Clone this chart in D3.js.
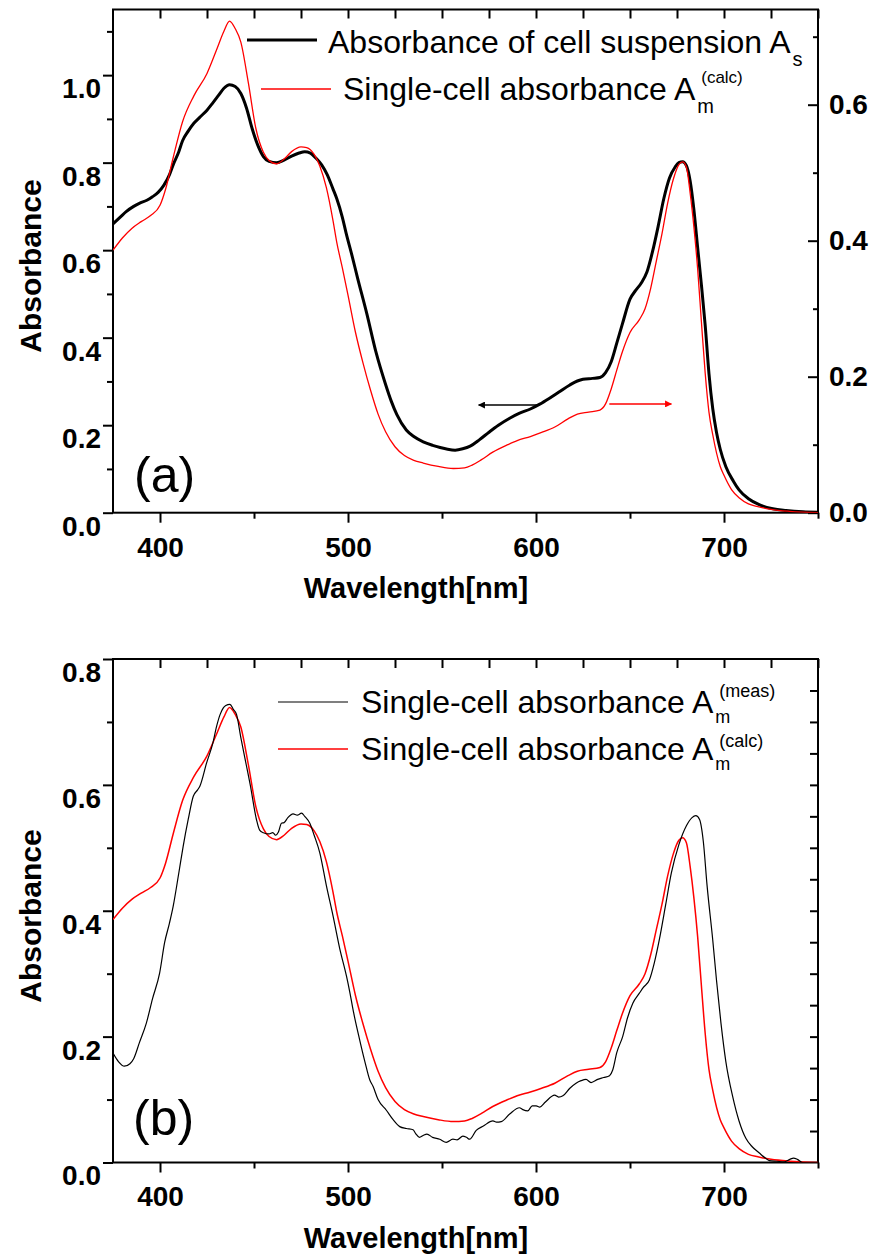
<!DOCTYPE html>
<html><head><meta charset="utf-8">
<script src="https://cdn.jsdelivr.net/npm/d3@7"></script>
<style>body{margin:0;background:#fff}svg{display:block}</style>
</head><body>
<svg id="c" width="875" height="1256"></svg>
<script>
// ---- data (wavelength nm, absorbance) ----
const suspension = [[375,.660],[379,.676],[382,.688],[386,.700],[389,.707],[393,.714],[396,.722],[399,.732],[402,.748],[405,.772],[407,.795],[410,.825],[412,.850],[415,.872],[418,.890],[421,.903],[425,.920],[428,.936],[431,.953],[434,.970],[437,.978],[440,.974],[443,.958],[446,.925],[449,.878],[452,.840],[455,.814],[458,.803],[462,.800],[466,.806],[470,.815],[474,.822],[477,.825],[480,.822],[483,.810],[486,.795],[489,.772],[492,.740],[494,.718],[497,.675],[499,.639],[502,.590],[505,.538],[510,.455],[515,.365],[520,.293],[523,.255],[526,.224],[531,.189],[535,.174],[540,.162],[545,.154],[549,.149],[553,.145],[557,.143],[561,.146],[565,.152],[570,.167],[575,.184],[580,.200],[586,.216],[591,.227],[597,.237],[602,.248],[607,.261],[612,.275],[618,.292],[622,.301],[625,.305],[630,.307],[634,.309],[637,.320],[640,.345],[643,.388],[646,.432],[650,.488],[653,.508],[656,.525],[659,.550],[662,.597],[665,.655],[668,.718],[671,.765],[674,.790],[676,.800],[678,.802],[680,.793],[682,.758],[684,.692],[686,.605],[688,.520],[690,.428],[692,.318],[694,.238],[696,.184],[698,.145],[701,.105],[705,.072],[708,.052],[713,.032],[719,.018],[726,.009],[733,.005],[742,.002],[750,.001]];

const calculated = [[375,.386],[380,.404],[385,.418],[390,.428],[395,.437],[400,.452],[403,.476],[407,.522],[412,.575],[418,.613],[425,.646],[430,.680],[434,.708],[437,.723],[440,.712],[443,.692],[447,.632],[451,.565],[455,.530],[458,.518],[462,.513],[466,.520],[470,.531],[475,.538],[478,.537],[482,.527],[485,.510],[488.5,.478],[492,.430],[494,.398],[497,.360],[500,.320],[504,.265],[508,.220],[512,.180],[516,.145],[520,.119],[525,.097],[530,.084],[535,.077],[540,.073],[548,.068],[556,.065],[562,.066],[566,.070],[571,.078],[577,.089],[585,.100],[590,.106],[597,.112],[603,.118],[610,.126],[617,.138],[622,.145],[628,.148],[634,.151],[637,.160],[640,.182],[643,.210],[646,.237],[650,.265],[655,.284],[658,.300],[661,.330],[664,.370],[667,.410],[670,.455],[673,.490],[676,.512],[678,.516],[680,.508],[682,.470],[684,.420],[686,.358],[688,.280],[690,.205],[692,.148],[694,.115],[698,.068],[700,.055],[704,.034],[708,.022],[713,.013],[718,.009],[725,.005],[735,.002],[750,.000]];

const measured = [[375,.174],[378,.160],[381,.153],[384,.157],[386,.165],[389,.190],[392.7,.221],[396,.260],[399.8,.301],[402.5,.350],[405,.380],[407,.407],[410,.460],[412.3,.502],[415,.545],[417.7,.582],[420,.592],[421.2,.598],[424.8,.635],[428,.665],[430.1,.693],[432,.712],[433.6,.722],[435,.726],[437.2,.728],[439,.720],[440.7,.712],[443,.675],[446,.630],[448,.600],[451.3,.545],[453,.528],[455,.524],[458,.522],[460,.524],[461.5,.520],[463,.525],[464.6,.539],[466,.540],[468,.548],[470.8,.554],[473,.552],[475.3,.555],[477,.550],[479.7,.539],[482,.520],[485,.492],[488.5,.440],[492.1,.391],[495.6,.340],[499.2,.296],[501,.270],[503,.238],[506.2,.195],[509,.160],[511.6,.131],[513.3,.121],[516,.100],[520.4,.083],[524,.068],[527.5,.057],[531,.054],[534.6,.052],[536,.046],[538,.040],[540,.043],[542,.045],[545,.040],[548.8,.037],[552.3,.032],[555.8,.037],[558,.036],[561.1,.042],[563,.040],[564.7,.037],[568.2,.051],[572,.058],[577.1,.066],[579,.064],[581.5,.065],[586,.077],[591.2,.087],[593,.084],[595.6,.082],[598,.090],[600.1,.090],[602,.088],[605,.096],[609.9,.107],[612,.104],[614.3,.106],[618,.118],[621.3,.126],[624,.130],[626.6,.132],[629.3,.127],[632.8,.132],[636,.135],[639.1,.138],[640.8,.147],[643,.175],[646.1,.200],[648.7,.230],[651.5,.253],[655,.269],[657,.278],[660.3,.290],[663,.318],[665.6,.354],[669,.410],[672,.460],[676,.505],[680,.535],[683,.548],[685,.551],[687,.545],[689,.510],[691,.440],[694,.354],[696,.290],[698.4,.221],[701,.160],[704.6,.105],[708,.066],[711.7,.038],[715,.025],[718.8,.015],[722,.007],[724.1,.003],[728,.002],[732,.001],[735,.005],[737,.007],[739,.005],[741.8,.000],[745,.000],[750,.000]];

// tick values
const xMajor = [400,500,600,700];
const xMinor = [450,550,650,750];
const xTopTicks = [400,425,450,475,500,525,550,575,600,625,650,675,700,725,750];
const yTopLeftMajor = [0,0.2,0.4,0.6,0.8,1.0];
const yTopLeftMinor = [0.1,0.3,0.5,0.7,0.9,1.1];
const yTopRightMajor = [0,0.2,0.4,0.6];
const yTopRightMinor = [0.1,0.3,0.5,0.7];
const yBotMajor = [0,0.2,0.4,0.6,0.8];
const yBotMinor = [0.1,0.3,0.5,0.7];
const yBotRight = [0.05,0.1,0.15,0.2,0.25,0.3,0.35,0.4,0.45,0.5,0.55,0.6,0.65,0.7,0.75];
// arrows: [wl from, wl to, absorbance] (left axis for suspension, right axis for calc)
const arrowSusp = [601.7, 569.5, 0.246];
const arrowCalc = [639, 672, 0.160];

const FONT = "'Liberation Sans', Arial, sans-serif";
const svg = d3.select("#c");
const L = 113, R = 818;
const x = d3.scaleLinear().domain([375,750]).range([L,R]);

const defs = svg.append("defs");
function marker(id, color){
  defs.append("marker").attr("id",id).attr("viewBox","0 0 10 10").attr("refX",9).attr("refY",5)
    .attr("markerWidth",9).attr("markerHeight",7).attr("markerUnits","userSpaceOnUse").attr("orient","auto")
    .append("path").attr("d","M0,0 L10,5 L0,10 Z").attr("fill",color);
}
marker("ab","#000"); marker("ar","#ff0000");

function styleAxis(g){
  g.select(".domain").remove();
  g.selectAll(".tick line").attr("stroke","#000").attr("stroke-width",2);
  g.selectAll("text").attr("font-family",FONT).attr("font-weight","bold").attr("font-size",28).attr("fill","#000");
}

function panel(top, bottom, yLeft, yLmaj, yLmin, clipId){
  const g = svg.append("g");
  g.append("g").attr("transform",`translate(0,${bottom})`)
    .call(d3.axisBottom(x).tickValues(xMajor).tickSize(10).tickPadding(14).tickFormat(d3.format("d"))).call(styleAxis);
  g.append("g").attr("transform",`translate(0,${bottom})`)
    .call(d3.axisBottom(x).tickValues(xMinor).tickSize(6).tickFormat(()=>"")).call(styleAxis);
  g.append("g").attr("transform",`translate(0,${top})`)
    .call(d3.axisTop(x).tickValues(xTopTicks).tickSize(-9).tickFormat(()=>"")).call(styleAxis);
  const la = g.append("g").attr("transform",`translate(${L},0)`)
    .call(d3.axisLeft(yLeft).tickValues(yLmaj).tickSize(10).tickPadding(2).tickFormat(d3.format(".1f"))).call(styleAxis);
  la.selectAll("text").attr("dy","0.8em");
  g.append("g").attr("transform",`translate(${L},0)`)
    .call(d3.axisLeft(yLeft).tickValues(yLmin).tickSize(6).tickFormat(()=>"")).call(styleAxis);
  g.append("rect").attr("x",L).attr("y",top).attr("width",R-L).attr("height",bottom-top)
    .attr("fill","none").attr("stroke","#000").attr("stroke-width",2);
  defs.append("clipPath").attr("id",clipId).append("rect").attr("x",L).attr("y",top-2).attr("width",R-L).attr("height",bottom-top+2);
  return g;
}

function text(g, str, xx, yy, size, opts={}){
  const t = g.append("text").attr("x",xx).attr("y",yy).attr("font-family",FONT).attr("font-size",size)
    .attr("fill","#000").text(str);
  if(opts.bold) t.attr("font-weight","bold");
  if(opts.anchor) t.attr("text-anchor",opts.anchor);
  if(opts.rotate) t.attr("transform",`rotate(-90,${xx},${yy})`);
  return t;
}

// ===== Panel (a) =====
const topA = 9.5, botA = 512.7;
const yAL = d3.scaleLinear().domain([0,1.15]).range([botA,topA]);
const yAR = d3.scaleLinear().domain([0,0.74]).range([botA,topA]);
const gA = panel(topA, botA, yAL, yTopLeftMajor, yTopLeftMinor, "clipA");
gA.append("g").attr("transform",`translate(${R},0)`)
  .call(d3.axisRight(yAR).tickValues(yTopRightMajor).tickSize(-10).tickPadding(11).tickFormat(d3.format(".1f"))).call(styleAxis);
gA.append("g").attr("transform",`translate(${R},0)`)
  .call(d3.axisRight(yAR).tickValues(yTopRightMinor).tickSize(-5).tickFormat(()=>"")).call(styleAxis);

const lineAL = d3.line().x(d=>x(d[0])).y(d=>yAL(d[1])).curve(d3.curveMonotoneX);
const lineAR = d3.line().x(d=>x(d[0])).y(d=>yAR(d[1])).curve(d3.curveMonotoneX);
gA.append("path").datum(suspension).attr("d",lineAL).attr("fill","none").attr("stroke","#000").attr("stroke-width",3).attr("clip-path","url(#clipA)");
gA.append("path").datum(calculated).attr("d",lineAR).attr("fill","none").attr("stroke","#ff0000").attr("stroke-width",1.3).attr("clip-path","url(#clipA)");

gA.append("line").attr("x1",x(arrowSusp[0])).attr("x2",x(arrowSusp[1])).attr("y1",yAL(arrowSusp[2])).attr("y2",yAL(arrowSusp[2]))
  .attr("stroke","#000").attr("stroke-width",1.5).attr("marker-end","url(#ab)");
gA.append("line").attr("x1",x(arrowCalc[0])).attr("x2",x(arrowCalc[1])).attr("y1",yAR(arrowCalc[2])).attr("y2",yAR(arrowCalc[2]))
  .attr("stroke","#ff0000").attr("stroke-width",1.5).attr("marker-end","url(#ar)");

text(gA, "Wavelength[nm]", 416, 598, 29, {bold:true, anchor:"middle"});
text(gA, "Absorbance", 41, 266, 30, {bold:true, anchor:"middle", rotate:true});
text(gA, "(a)", 134, 492, 50);

function legendEntry(g, lx1, lx2, ly, color, sw, tx, ty, main, sub, sup, o){
  g.append("line").attr("x1",lx1).attr("x2",lx2).attr("y1",ly).attr("y2",ly).attr("stroke",color).attr("stroke-width",sw);
  const t = text(g, main, tx, ty, 32);
  const end = tx + t.node().getComputedTextLength();
  if(sub) text(g, sub, end + 2, ty + o.subDy, o.subSize);
  if(sup) text(g, sup, end + 6, ty + o.supDy, o.supSize);
}
legendEntry(gA, 247, 317, 40, "#000", 3, 328, 53, "Absorbance of cell suspension A", "s", null, {subDy:13, subSize:20});
legendEntry(gA, 261, 331, 89, "#ff0000", 1.3, 343, 100, "Single-cell absorbance A", "m", "(calc)", {subDy:13, subSize:20, supDy:-17, supSize:17});

// ===== Panel (b) =====
const topB = 659, botB = 1162.5;
const yB = d3.scaleLinear().domain([0,0.8]).range([botB,topB]);
const gB = panel(topB, botB, yB, yBotMajor, yBotMinor, "clipB");
gB.append("g").attr("transform",`translate(${R},0)`)
  .call(d3.axisRight(yB).tickValues(yBotRight).tickSize(-8).tickFormat(()=>"")).call(styleAxis);
const lineB = d3.line().x(d=>x(d[0])).y(d=>yB(d[1])).curve(d3.curveMonotoneX);
gB.append("path").datum(calculated).attr("d",lineB).attr("fill","none").attr("stroke","#ff0000").attr("stroke-width",1.5).attr("clip-path","url(#clipB)");
gB.append("path").datum(measured).attr("d",lineB).attr("fill","none").attr("stroke","#000").attr("stroke-width",1.2).attr("clip-path","url(#clipB)");

text(gB, "Wavelength[nm]", 416, 1248, 29, {bold:true, anchor:"middle"});
text(gB, "Absorbance", 41, 916, 30, {bold:true, anchor:"middle", rotate:true});
text(gB, "(b)", 133, 1135, 50);

legendEntry(gB, 278, 348, 702, "#000", 1.2, 361, 713, "Single-cell absorbance A", "m", "(meas)", {subDy:10, subSize:18, supDy:-16, supSize:18});
legendEntry(gB, 278, 348, 749, "#ff0000", 1.5, 361, 760, "Single-cell absorbance A", "m", "(calc)", {subDy:10, subSize:18, supDy:-13, supSize:18});
</script>
</body></html>
